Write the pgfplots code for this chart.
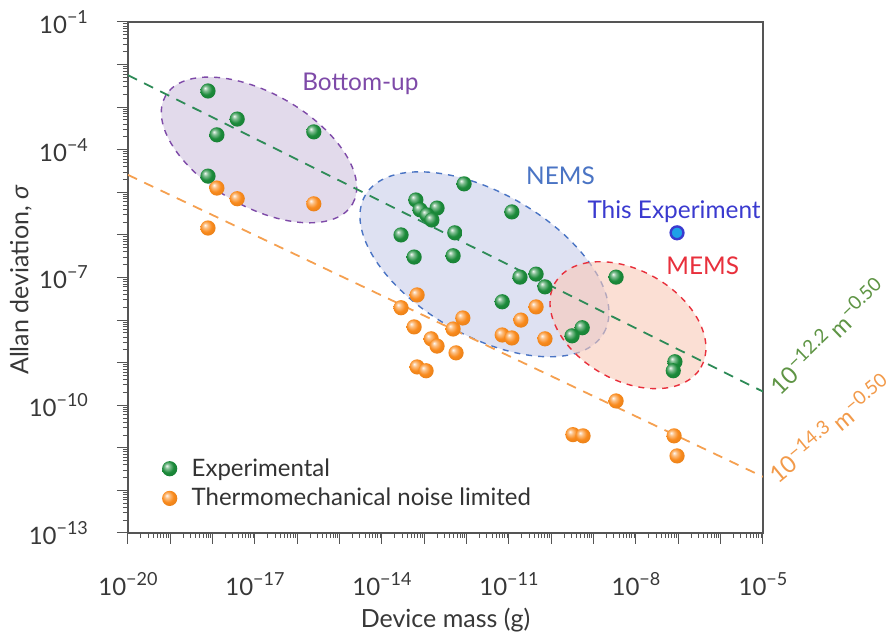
\documentclass[border=0pt]{standalone}
\usepackage{pgfplots}
\pgfplotsset{compat=1.18}
\usepackage{fontspec}
\setmainfont{Lato}
\usetikzlibrary{shapes.geometric}
\makeatletter
\pgfdeclareradialshading[tikz@ball]{ball}{\pgfqpoint{-10bp}{10bp}}{%
  color(0bp)=(tikz@ball!5!white); color(8bp)=(tikz@ball!55!white);
  color(19bp)=(tikz@ball); color(38bp)=(tikz@ball!88!black); color(50bp)=(tikz@ball!75!black)}
\makeatother
\definecolor{gpt}{HTML}{1B8A3A}
\definecolor{opt}{HTML}{F98A1C}
\definecolor{gline}{HTML}{2E8B57}
\definecolor{oline}{HTML}{F5A050}
\definecolor{glab}{HTML}{5E9444}
\definecolor{olab}{HTML}{F29A4A}
\definecolor{bupc}{HTML}{7E4AA8}
\definecolor{bupf}{HTML}{DDD3E8}
\definecolor{nemc}{HTML}{4A74C4}
\definecolor{nemf}{HTML}{D8DCF0}
\definecolor{memc}{HTML}{E8303C}
\definecolor{memf}{HTML}{F9C9B8}
\definecolor{expc}{HTML}{3A3ACF}
\definecolor{expf}{HTML}{1EA0E8}
\definecolor{axc}{HTML}{555555}
\newcommand\sups[1]{\raisebox{0.42em}{\fontsize{9}{10}\selectfont #1}}
\newcommand\lsups[1]{\raisebox{0.36em}{\fontsize{9.5}{10}\selectfont #1}}
\def\minx{}
\foreach \e in {-20,...,-6}{\foreach \m in {2,...,9}{\xdef\minx{\minx\m e\e,}}}
\xdef\minx{\minx 1e-5}
\def\miny{}
\foreach \e in {-13,...,-2}{\foreach \m in {2,...,9}{\xdef\miny{\miny\m e\e,}}}
\xdef\miny{\miny 1e-1}
\begin{document}
\begin{tikzpicture}
\begin{axis}[
  scale only axis, width=317.5pt, height=255.5pt,
  xmode=log, ymode=log,
  xmin=1e-20, xmax=1e-5, ymin=1e-13, ymax=1e-1,
  xtick={1e-20,1e-19,1e-18,1e-17,1e-16,1e-15,1e-14,1e-13,1e-12,1e-11,1e-10,1e-9,1e-8,1e-7,1e-6,1e-5},
  xticklabels={10\sups{−20},,,10\sups{−17},,,10\sups{−14},,,10\sups{−11},,,10\sups{−8},,,10\sups{−5}},
  ytick={1e-13,1e-12,1e-11,1e-10,1e-9,1e-8,1e-7,1e-6,1e-5,1e-4,1e-3,1e-2,1e-1},
  yticklabels={10\sups{−13},,,10\sups{−10},,,10\sups{−7},,,10\sups{−4},,,10\sups{−1}},
  minor xtick/.expanded={\minx},
  minor ytick/.expanded={\miny},
  tick pos=left, tick align=outside,
  major tick length=5.5pt, minor tick length=2.5pt,
  tick style={axc, line width=0.5pt},
  axis line style={axc, line width=0.6pt},
  ticklabel style={font=\fontsize{12}{13}\selectfont, text=black!78},
  xticklabel style={anchor=center, yshift=-20pt},
  yticklabel style={anchor=east, xshift=-11pt},
  xlabel={Device mass (g)}, ylabel={Allan deviation, \textit{σ}},
  every axis x label/.style={at={(axis description cs:0.5,-0.170)}, anchor=center,
    font=\fontsize{12.5}{14}\selectfont, text=black!78},
  every axis y label/.style={at={(axis description cs:-0.1685,0.495)}, rotate=90, anchor=center,
    font=\fontsize{12.5}{14}\selectfont, text=black!78},
  clip mode=individual,
  legend style={draw=none, fill=none, at={(rel axis cs:0.043,0.031)}, anchor=south west,
    font=\fontsize{12}{13}\selectfont, row sep=0.5pt, text=black!80,
    /tikz/every odd column/.append style={column sep=5pt}},
  legend cell align=left,
]
% regions
\node[ellipse, draw=bupc, dashed, fill=bupf, fill opacity=0.85, draw opacity=1, line width=0.7pt,
  minimum width=108pt, minimum height=56.5pt, inner sep=0pt, rotate=-30]
  at (axis cs:1.245e-17,9.89e-5) {};
\node[ellipse, draw=nemc, dashed, fill=nemf, fill opacity=0.85, draw opacity=1, line width=0.7pt,
  minimum width=137.7pt, minimum height=71.3pt, inner sep=0pt, rotate=-30]
  at (axis cs:2.63e-12,2.04e-7) {};
\node[ellipse, draw=memc, dashed, fill=memf, fill opacity=0.6, draw opacity=1, line width=0.7pt,
  minimum width=84.3pt, minimum height=54.8pt, inner sep=0pt, rotate=-30]
  at (axis cs:6.46e-9,7.59e-9) {};
% trend lines
\addplot[gline, line width=0.9pt, dash pattern=on 5pt off 4pt, forget plot] coordinates {(1e-20,5.62e-3) (1e-5,2.09e-10)};
\addplot[oline, line width=0.9pt, dash pattern=on 5pt off 4pt, forget plot] coordinates {(1e-20,2.57e-5) (1e-5,2.09e-12)};
% experimental
\addplot[only marks, mark=ball, mark size=3.8pt, mark options={ball color=gpt, draw opacity=0}] coordinates {
(7.76e-19,2.40e-3) (1.26e-18,2.24e-4) (3.80e-18,5.25e-4) (2.45e-16,2.63e-4) (7.76e-19,2.40e-5)
(8.71e-13,1.58e-5) (6.31e-14,6.61e-6) (2.00e-13,4.27e-6) (7.94e-14,3.89e-6) (1.15e-13,2.95e-6)
(1.51e-13,2.24e-6) (1.17e-11,3.47e-6) (2.82e-14,1.0e-6) (5.25e-13,1.12e-6) (5.75e-14,3.02e-7)
(4.79e-13,3.24e-7) (1.82e-11,1.02e-7) (4.37e-11,1.20e-7) (7.08e-11,6.03e-8) (6.92e-12,2.69e-8)
(5.37e-10,6.61e-9) (3.09e-10,4.27e-9) (3.39e-9,1.02e-7) (8.32e-8,1.05e-9) (7.59e-8,6.46e-10)
};
\addlegendentry{Experimental}
% thermomechanical
\addplot[only marks, mark=ball, mark size=3.8pt, mark options={ball color=opt, draw opacity=0}] coordinates {
(1.26e-18,1.26e-5) (3.80e-18,7.08e-6) (2.45e-16,5.37e-6) (7.76e-19,1.45e-6)
(6.76e-14,3.89e-8) (2.82e-14,1.95e-8) (5.75e-14,6.92e-9) (1.45e-13,3.63e-9) (2.00e-13,2.45e-9)
(4.79e-13,6.17e-9) (8.13e-13,1.12e-8) (5.62e-13,1.70e-9) (6.76e-14,7.94e-10) (1.10e-13,6.46e-10)
(6.92e-12,4.47e-9) (1.17e-11,3.80e-9) (1.91e-11,1.0e-8) (4.37e-11,2.04e-8) (7.08e-11,3.63e-9)
(3.39e-9,1.26e-10) (3.24e-10,2.04e-11) (5.62e-10,1.91e-11) (7.94e-8,1.91e-11) (9.33e-8,6.46e-12)
};
\addlegendentry{Thermomechanical noise limited}
% this experiment
\addplot[only marks, mark=*, mark size=3.2pt, mark options={fill=expf, draw=expc, line width=1.2pt}, forget plot] coordinates {(9.33e-8,1.12e-6)};
% labels
\node[text=bupc, font=\fontsize{12.2}{13}\selectfont] at (rel axis cs:0.366,0.879) {Bottom-up};
\node[text=nemc, font=\fontsize{12.2}{13}\selectfont] at (rel axis cs:0.681,0.699) {NEMS};
\node[text=expc, font=\fontsize{12.2}{13}\selectfont] at (rel axis cs:0.860,0.628) {This Experiment};
\node[text=memc, font=\fontsize{12.2}{13}\selectfont] at (rel axis cs:0.905,0.5225) {MEMS};
\node[text=glab, font=\fontsize{11.8}{13}\selectfont, rotate=44, inner sep=0pt] at (rel axis cs:1.1008,0.3855) {10\lsups{−12.2} m\lsups{−0.50}};
\node[text=olab, font=\fontsize{11.8}{13}\selectfont, rotate=39.5, inner sep=0pt] at (rel axis cs:1.104,0.2055) {10\lsups{−14.3} m\lsups{−0.50}};
\end{axis}
\pgfresetboundingbox
\path[use as bounding box] ([shift={(-64pt,-51pt)}]current axis.south west) rectangle ([shift={(65pt,11pt)}]current axis.north east);
\end{tikzpicture}
\end{document}
